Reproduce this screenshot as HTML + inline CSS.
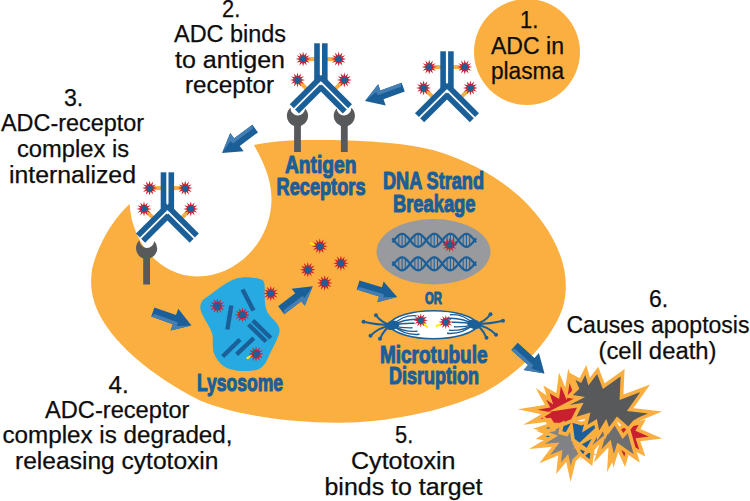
<!DOCTYPE html>
<html lang="en"><head><meta charset="utf-8"><title>ADC mechanism of action</title>
<style>
html,body{margin:0;padding:0;background:#fff;}
svg{display:block;}
.t{font-family:"Liberation Sans",sans-serif;fill:#0d0d0d;stroke:#0d0d0d;stroke-width:0.25px;}
.b{font-family:"Liberation Sans",sans-serif;font-weight:bold;fill:#1B5F98;stroke:#1B5F98;stroke-width:1.1px;stroke-linejoin:round;}
</style></head><body>
<svg width="750" height="501" viewBox="0 0 750 501">
<rect width="750" height="501" fill="#fff"/>
<circle cx="527" cy="52" r="53" fill="#FBAF40"/>
<path d="M129.6,204 C113.5,219 98.5,243 92.3,268 C89,287 92.5,303 102.5,320 C117,345 150,375 200,400.5 C232,414 285,423 340,422.7 C385,422.5 440,412.5 483,393 C519,374 552,340 563,307 C571,278 561.5,249 543,223 C524,196 490,167 433,150 C400,141.5 350,139.5 304,140 C285,140.5 268,142 254,145 C262,160 271,176 271.5,198 C272,240 238,276.5 197,276.5 C163,276.5 132,246 129.6,204 Z" fill="#FBAF40"/>
<g transform="translate(297.5,115.8) rotate(0)"><rect x="-3.4" y="6" width="6.8" height="30.2" fill="#58595B"/><path d="M-7,-8 A10.6,10.6 0 1 0 7.6,-7.4 A7.3,7.3 0 0 1 -7,-8 Z" fill="#58595B"/></g>
<g transform="translate(344.3,115.8) rotate(0)"><rect x="-3.4" y="6" width="6.8" height="30.2" fill="#58595B"/><path d="M-7.6,-7.4 A10.6,10.6 0 1 0 7,-8 A7.3,7.3 0 0 1 -7.6,-7.4 Z" fill="#58595B"/></g>
<g transform="translate(146.6,248.3) rotate(0)"><rect x="-3.4" y="6" width="6.8" height="30.2" fill="#58595B"/><path d="M-7,-8 A10.6,10.6 0 1 0 7.6,-7.4 A7.3,7.3 0 0 1 -7,-8 Z" fill="#58595B"/></g>
<g><line x1="317.9" y1="59.1" x2="303.4" y2="59.1" stroke="#FBAF40" stroke-width="4"/><line x1="297.5" y1="79.9" x2="309.5" y2="91.9" stroke="#FBAF40" stroke-width="4"/><line x1="323.9" y1="59.1" x2="338.4" y2="59.1" stroke="#FBAF40" stroke-width="4"/><line x1="344.3" y1="79.9" x2="332.3" y2="91.9" stroke="#FBAF40" stroke-width="4"/><rect x="314.2" y="43.3" width="5.6" height="37.5" fill="#1B5F98"/><rect x="322" y="43.3" width="5.6" height="37.5" fill="#1B5F98"/><g transform="translate(320.9,82.3) scale(-1,1) rotate(45)"><rect x="-4.6" y="-6.5" width="42.1" height="5.6" fill="#1B5F98"/><rect x="2.2" y="0.9" width="35.3" height="5.6" fill="#1B5F98"/></g><g transform="translate(320.9,82.3) scale(1,1) rotate(45)"><rect x="-4.6" y="-6.5" width="42.1" height="5.6" fill="#1B5F98"/><rect x="2.2" y="0.9" width="35.3" height="5.6" fill="#1B5F98"/></g><polygon points="310.6,59.1 306.7,60.1 309.6,62.8 305.8,61.8 306.8,65.6 304.1,62.7 303.1,66.6 302.1,62.7 299.3,65.6 300.4,61.8 296.6,62.8 299.5,60.1 295.6,59.1 299.5,58.1 296.6,55.3 300.4,56.4 299.3,52.6 302.1,55.5 303.1,51.6 304.1,55.5 306.8,52.6 305.8,56.4 309.6,55.3 306.7,58.1" fill="#C8202F"/><circle cx="303.1" cy="59.1" r="3.1" fill="#1B5F98"/><polygon points="305,79.9 301.1,80.9 304,83.7 300.2,82.6 301.2,86.4 298.5,83.5 297.5,87.4 296.5,83.5 293.8,86.4 294.8,82.6 291,83.7 293.9,80.9 290,79.9 293.9,78.9 291,76.2 294.8,77.2 293.8,73.4 296.5,76.3 297.5,72.4 298.5,76.3 301.2,73.4 300.2,77.2 304,76.2 301.1,78.9" fill="#C8202F"/><circle cx="297.5" cy="79.9" r="3.1" fill="#1B5F98"/><polygon points="346.2,59.1 342.3,60.1 345.2,62.8 341.4,61.8 342.4,65.6 339.7,62.7 338.7,66.6 337.7,62.7 334.9,65.6 336,61.8 332.2,62.8 335.1,60.1 331.2,59.1 335.1,58.1 332.2,55.3 336,56.4 334.9,52.6 337.7,55.5 338.7,51.6 339.7,55.5 342.4,52.6 341.4,56.4 345.2,55.3 342.3,58.1" fill="#C8202F"/><circle cx="338.7" cy="59.1" r="3.1" fill="#1B5F98"/><polygon points="351.8,79.9 347.9,80.9 350.8,83.7 347,82.6 348,86.4 345.3,83.5 344.3,87.4 343.3,83.5 340.5,86.4 341.6,82.6 337.8,83.7 340.7,80.9 336.8,79.9 340.7,78.9 337.8,76.2 341.6,77.2 340.5,73.4 343.3,76.3 344.3,72.4 345.3,76.3 348,73.4 347,77.2 350.8,76.2 347.9,78.9" fill="#C8202F"/><circle cx="344.3" cy="79.9" r="3.1" fill="#1B5F98"/></g>
<g><line x1="444" y1="67.1" x2="429.5" y2="67.1" stroke="#FBAF40" stroke-width="4"/><line x1="423.6" y1="87.9" x2="435.6" y2="99.9" stroke="#FBAF40" stroke-width="4"/><line x1="450" y1="67.1" x2="464.5" y2="67.1" stroke="#FBAF40" stroke-width="4"/><line x1="470.4" y1="87.9" x2="458.4" y2="99.9" stroke="#FBAF40" stroke-width="4"/><rect x="440.3" y="51.3" width="5.6" height="37.5" fill="#1B5F98"/><rect x="448.1" y="51.3" width="5.6" height="37.5" fill="#1B5F98"/><g transform="translate(447,90.3) scale(-1,1) rotate(45)"><rect x="-4.6" y="-6.5" width="43.4" height="5.6" fill="#1B5F98"/><rect x="2.2" y="0.9" width="36.6" height="5.6" fill="#1B5F98"/></g><g transform="translate(447,90.3) scale(1,1) rotate(45)"><rect x="-4.6" y="-6.5" width="43.4" height="5.6" fill="#1B5F98"/><rect x="2.2" y="0.9" width="36.6" height="5.6" fill="#1B5F98"/></g><polygon points="436.7,67.1 432.8,68.1 435.7,70.8 431.9,69.8 432.9,73.6 430.2,70.7 429.2,74.6 428.2,70.7 425.4,73.6 426.5,69.8 422.7,70.8 425.6,68.1 421.7,67.1 425.6,66.1 422.7,63.3 426.5,64.4 425.4,60.6 428.2,63.5 429.2,59.6 430.2,63.5 432.9,60.6 431.9,64.4 435.7,63.3 432.8,66.1" fill="#C8202F"/><circle cx="429.2" cy="67.1" r="3.1" fill="#1B5F98"/><polygon points="431.1,87.9 427.2,88.9 430.1,91.7 426.3,90.6 427.4,94.4 424.6,91.5 423.6,95.4 422.6,91.5 419.9,94.4 420.9,90.6 417.1,91.7 420,88.9 416.1,87.9 420,86.9 417.1,84.2 420.9,85.2 419.9,81.4 422.6,84.3 423.6,80.4 424.6,84.3 427.4,81.4 426.3,85.2 430.1,84.2 427.2,86.9" fill="#C8202F"/><circle cx="423.6" cy="87.9" r="3.1" fill="#1B5F98"/><polygon points="472.3,67.1 468.4,68.1 471.3,70.8 467.5,69.8 468.6,73.6 465.8,70.7 464.8,74.6 463.8,70.7 461.1,73.6 462.1,69.8 458.3,70.8 461.2,68.1 457.3,67.1 461.2,66.1 458.3,63.3 462.1,64.4 461.1,60.6 463.8,63.5 464.8,59.6 465.8,63.5 468.6,60.6 467.5,64.4 471.3,63.3 468.4,66.1" fill="#C8202F"/><circle cx="464.8" cy="67.1" r="3.1" fill="#1B5F98"/><polygon points="477.9,87.9 474,88.9 476.9,91.7 473.1,90.6 474.1,94.4 471.4,91.5 470.4,95.4 469.4,91.5 466.6,94.4 467.7,90.6 463.9,91.7 466.8,88.9 462.9,87.9 466.8,86.9 463.9,84.2 467.7,85.2 466.6,81.4 469.4,84.3 470.4,80.4 471.4,84.3 474.1,81.4 473.1,85.2 476.9,84.2 474,86.9" fill="#C8202F"/><circle cx="470.4" cy="87.9" r="3.1" fill="#1B5F98"/></g>
<g><line x1="164.4" y1="188.1" x2="149.9" y2="188.1" stroke="#FBAF40" stroke-width="4"/><line x1="144" y1="208.9" x2="156" y2="220.9" stroke="#FBAF40" stroke-width="4"/><line x1="170.4" y1="188.1" x2="184.9" y2="188.1" stroke="#FBAF40" stroke-width="4"/><line x1="190.8" y1="208.9" x2="178.8" y2="220.9" stroke="#FBAF40" stroke-width="4"/><rect x="160.7" y="172.3" width="5.6" height="37.5" fill="#1B5F98"/><rect x="168.5" y="172.3" width="5.6" height="37.5" fill="#1B5F98"/><g transform="translate(167.4,211.3) scale(-1,1) rotate(45)"><rect x="-4.6" y="-6.5" width="42.6" height="5.6" fill="#1B5F98"/><rect x="2.2" y="0.9" width="35.8" height="5.6" fill="#1B5F98"/></g><g transform="translate(167.4,211.3) scale(1,1) rotate(45)"><rect x="-4.6" y="-6.5" width="42.6" height="5.6" fill="#1B5F98"/><rect x="2.2" y="0.9" width="35.8" height="5.6" fill="#1B5F98"/></g><polygon points="157.1,188.1 153.2,189.1 156.1,191.9 152.3,190.8 153.3,194.6 150.6,191.7 149.6,195.6 148.6,191.7 145.8,194.6 146.9,190.8 143.1,191.9 146,189.1 142.1,188.1 146,187.1 143.1,184.4 146.9,185.4 145.8,181.6 148.6,184.5 149.6,180.6 150.6,184.5 153.3,181.6 152.3,185.4 156.1,184.4 153.2,187.1" fill="#C8202F"/><circle cx="149.6" cy="188.1" r="3.1" fill="#1B5F98"/><polygon points="151.5,208.9 147.6,209.9 150.5,212.7 146.7,211.6 147.8,215.4 145,212.5 144,216.4 143,212.5 140.2,215.4 141.3,211.6 137.5,212.7 140.4,209.9 136.5,208.9 140.4,207.9 137.5,205.2 141.3,206.2 140.2,202.4 143,205.3 144,201.4 145,205.3 147.8,202.4 146.7,206.2 150.5,205.2 147.6,207.9" fill="#C8202F"/><circle cx="144" cy="208.9" r="3.1" fill="#1B5F98"/><polygon points="192.7,188.1 188.8,189.1 191.7,191.9 187.9,190.8 189,194.6 186.2,191.7 185.2,195.6 184.2,191.7 181.5,194.6 182.5,190.8 178.7,191.9 181.6,189.1 177.7,188.1 181.6,187.1 178.7,184.4 182.5,185.4 181.5,181.6 184.2,184.5 185.2,180.6 186.2,184.5 189,181.6 187.9,185.4 191.7,184.4 188.8,187.1" fill="#C8202F"/><circle cx="185.2" cy="188.1" r="3.1" fill="#1B5F98"/><polygon points="198.3,208.9 194.4,209.9 197.3,212.7 193.5,211.6 194.6,215.4 191.8,212.5 190.8,216.4 189.8,212.5 187.1,215.4 188.1,211.6 184.3,212.7 187.2,209.9 183.3,208.9 187.2,207.9 184.3,205.2 188.1,206.2 187.1,202.4 189.8,205.3 190.8,201.4 191.8,205.3 194.6,202.4 193.5,206.2 197.3,205.2 194.4,207.9" fill="#C8202F"/><circle cx="190.8" cy="208.9" r="3.1" fill="#1B5F98"/></g>
<g transform="translate(403.2,87.2) rotate(160.1)"><polygon points="0,-4.6 22.6,-4.6 22.6,-11.2 40.6,0 22.6,11.2 22.6,4.6 0,4.6" fill="#1B5F98"/><polygon points="0,4.6 22.6,4.6 22.6,11.2 40.6,0 27.1,4.7 26.6,1.2 2,1.2" fill="#447EB2"/></g>
<g transform="translate(255.2,128.6) rotate(143.5)"><polygon points="0,-4.7 22.7,-4.7 22.7,-11.3 41.2,0 22.7,11.3 22.7,4.7 0,4.7" fill="#1B5F98"/><polygon points="0,4.7 22.7,4.7 22.7,11.3 41.2,0 27.2,4.8 26.7,1.3 2,1.3" fill="#447EB2"/></g>
<g transform="translate(152.8,312) rotate(19.4)"><polygon points="0,-4.8 22.9,-4.8 22.9,-11.6 41,0 22.9,11.6 22.9,4.8 0,4.8" fill="#1B5F98"/><polygon points="0,4.8 22.9,4.8 22.9,11.6 41,0 27.4,5.1 26.9,1.4 2,1.4" fill="#447EB2"/></g>
<g transform="translate(281.2,310.2) rotate(-37.3)"><polygon points="0,-5 21.4,-5 21.4,-10.8 39.6,0 21.4,10.8 21.4,5 0,5" fill="#1B5F98"/><polygon points="0,5 21.4,5 21.4,10.8 39.6,0 25.9,4.3 25.4,1.6 2,1.6" fill="#447EB2"/></g>
<g transform="translate(358.1,285) rotate(17)"><polygon points="0,-4.8 23.4,-4.8 23.4,-10.9 40.8,0 23.4,10.9 23.4,4.8 0,4.8" fill="#1B5F98"/><polygon points="0,4.8 23.4,4.8 23.4,10.9 40.8,0 27.9,4.4 27.4,1.4 2,1.4" fill="#447EB2"/></g>
<g transform="translate(514.5,346.4) rotate(42.1)"><polygon points="0,-4.8 22.6,-4.8 22.6,-11.4 40.4,0 22.6,11.4 22.6,4.8 0,4.8" fill="#1B5F98"/><polygon points="0,4.8 22.6,4.8 22.6,11.4 40.4,0 27.1,4.9 26.6,1.4 2,1.4" fill="#447EB2"/></g>
<path d="M200.3,306 C200.8,303 202,301 203.8,299.3 L222.7,285.6 C227,282.5 231,280.5 235.6,278.8 C242,276.6 254,276.6 262.5,280 C266,283 264,290 265,302 C265.5,310 268,314 272,318 C278,324 281,328 279,334 C277,341 273,347 269.7,354 C267,361 264,367 258,369.5 C250,372 236,371.5 228,368.5 C220,365 216,359 213.5,352 C212,345 213.5,338 212,333 C210,327 206,322 203,316 C201,312 200,309 200.3,306 Z" fill="#27A9E1"/>
<line x1="242.5" y1="289.5" x2="253.5" y2="310.5" stroke="#1B5F98" stroke-width="4.4"/>
<line x1="231.3" y1="305.5" x2="227.4" y2="329.5" stroke="#1B5F98" stroke-width="4.4"/>
<line x1="252.8" y1="320.5" x2="270.8" y2="338" stroke="#1B5F98" stroke-width="4.4"/>
<line x1="248.6" y1="324.5" x2="266" y2="341.5" stroke="#1B5F98" stroke-width="4.4"/>
<line x1="240" y1="339.5" x2="222.7" y2="356.5" stroke="#1B5F98" stroke-width="4.4"/>
<line x1="253.8" y1="338" x2="236.6" y2="354.3" stroke="#1B5F98" stroke-width="4.4"/>
<polygon points="225.1,306 221.1,307 224.1,309.9 220.1,308.7 221.2,312.7 218.4,309.7 217.4,313.7 216.4,309.7 213.6,312.7 214.7,308.7 210.7,309.9 213.7,307 209.7,306 213.7,305 210.7,302.1 214.7,303.3 213.6,299.3 216.4,302.3 217.4,298.3 218.4,302.3 221.2,299.3 220.1,303.3 224.1,302.1 221.1,305" fill="#C8202F"/><circle cx="217.4" cy="306" r="3.2" fill="#1B5F98"/>
<polygon points="250.1,314.9 246.1,315.9 249.1,318.8 245.1,317.6 246.2,321.6 243.4,318.6 242.4,322.6 241.4,318.6 238.6,321.6 239.7,317.6 235.7,318.8 238.7,315.9 234.7,314.9 238.7,313.9 235.7,311 239.7,312.2 238.6,308.2 241.4,311.2 242.4,307.2 243.4,311.2 246.2,308.2 245.1,312.2 249.1,311 246.1,313.9" fill="#C8202F"/><circle cx="242.4" cy="314.9" r="3.2" fill="#1B5F98"/>
<line x1="247.5" y1="358" x2="256" y2="354" stroke="#FFF200" stroke-width="2.2" stroke-linecap="round"/><polygon points="263.7,354 259.7,355 262.7,357.9 258.7,356.7 259.9,360.7 257,357.7 256,361.7 255,357.7 252.2,360.7 253.3,356.7 249.3,357.9 252.3,355 248.3,354 252.3,353 249.3,350.1 253.3,351.3 252.2,347.3 255,350.3 256,346.3 257,350.3 259.9,347.3 258.7,351.3 262.7,350.1 259.7,353" fill="#C8202F"/><circle cx="256" cy="354" r="3.2" fill="#1B5F98"/>
<polygon points="278.5,293.5 274.5,294.5 277.5,297.4 273.5,296.2 274.7,300.2 271.8,297.2 270.8,301.2 269.8,297.2 266.9,300.2 268.1,296.2 264.1,297.4 267.1,294.5 263.1,293.5 267.1,292.5 264.1,289.6 268.1,290.8 266.9,286.8 269.8,289.8 270.8,285.8 271.8,289.8 274.7,286.8 273.5,290.8 277.5,289.6 274.5,292.5" fill="#C8202F"/><circle cx="270.8" cy="293.5" r="3.2" fill="#1B5F98"/>
<line x1="310.8" y1="243.2" x2="319.8" y2="246.2" stroke="#FFF200" stroke-width="2.2" stroke-linecap="round"/><polygon points="327.7,246.2 323.6,247.2 326.6,250.1 322.6,249 323.8,253 320.8,250 319.8,254.1 318.8,250 315.9,253 317,249 313,250.1 316,247.2 311.9,246.2 316,245.2 313,242.2 317,243.4 315.9,239.4 318.8,242.4 319.8,238.3 320.8,242.4 323.8,239.4 322.6,243.4 326.6,242.2 323.6,245.2" fill="#C8202F"/><circle cx="319.8" cy="246.2" r="3.2" fill="#1B5F98"/>
<polygon points="348.8,263.2 344.7,264.2 347.7,267.1 343.7,266 344.8,270 341.9,267 340.9,271.1 339.9,267 336.9,270 338.1,266 334.1,267.1 337.1,264.2 333,263.2 337.1,262.2 334.1,259.2 338.1,260.4 336.9,256.4 339.9,259.4 340.9,255.3 341.9,259.4 344.8,256.4 343.7,260.4 347.7,259.2 344.7,262.2" fill="#C8202F"/><circle cx="340.9" cy="263.2" r="3.2" fill="#1B5F98"/>
<polygon points="315.7,269.7 311.6,270.7 314.6,273.6 310.6,272.5 311.8,276.5 308.8,273.5 307.8,277.6 306.8,273.5 303.9,276.5 305,272.5 301,273.6 304,270.7 299.9,269.7 304,268.7 301,265.8 305,266.9 303.9,262.9 306.8,265.9 307.8,261.8 308.8,265.9 311.8,262.9 310.6,266.9 314.6,265.8 311.6,268.7" fill="#C8202F"/><circle cx="307.8" cy="269.7" r="3.2" fill="#1B5F98"/>
<polygon points="332.6,283 328.5,284 331.5,286.9 327.5,285.8 328.6,289.8 325.7,286.8 324.7,290.9 323.7,286.8 320.8,289.8 321.9,285.8 317.9,286.9 320.9,284 316.8,283 320.9,282 317.9,279.1 321.9,280.2 320.8,276.2 323.7,279.2 324.7,275.1 325.7,279.2 328.6,276.2 327.5,280.2 331.5,279.1 328.5,282" fill="#C8202F"/><circle cx="324.7" cy="283" r="3.2" fill="#1B5F98"/>
<ellipse cx="433.5" cy="251.7" rx="57" ry="32.8" fill="#999A9E"/>
<line x1="398.8" y1="235" x2="398.8" y2="245.6" stroke="#1B5F98" stroke-width="1"/><line x1="402.1" y1="233.8" x2="402.1" y2="246.8" stroke="#1B5F98" stroke-width="1"/><line x1="405.3" y1="235" x2="405.3" y2="245.6" stroke="#1B5F98" stroke-width="1"/><line x1="414.9" y1="235" x2="414.9" y2="245.6" stroke="#1B5F98" stroke-width="1"/><line x1="418.1" y1="233.8" x2="418.1" y2="246.8" stroke="#1B5F98" stroke-width="1"/><line x1="421.4" y1="235" x2="421.4" y2="245.6" stroke="#1B5F98" stroke-width="1"/><line x1="431" y1="235" x2="431" y2="245.6" stroke="#1B5F98" stroke-width="1"/><line x1="434.2" y1="233.8" x2="434.2" y2="246.8" stroke="#1B5F98" stroke-width="1"/><line x1="437.5" y1="235" x2="437.5" y2="245.6" stroke="#1B5F98" stroke-width="1"/><line x1="447.1" y1="235" x2="447.1" y2="245.6" stroke="#1B5F98" stroke-width="1"/><line x1="450.4" y1="233.8" x2="450.4" y2="246.8" stroke="#1B5F98" stroke-width="1"/><line x1="453.6" y1="235" x2="453.6" y2="245.6" stroke="#1B5F98" stroke-width="1"/><line x1="463.2" y1="235" x2="463.2" y2="245.6" stroke="#1B5F98" stroke-width="1"/><line x1="466.4" y1="233.8" x2="466.4" y2="246.8" stroke="#1B5F98" stroke-width="1"/><line x1="469.7" y1="235" x2="469.7" y2="245.6" stroke="#1B5F98" stroke-width="1"/><polyline points="392.4,238.3 393.2,239.3 394.1,240.4 394.9,241.4 395.7,242.5 396.6,243.4 397.4,244.3 398.3,245.1 399.1,245.7 399.9,246.2 400.8,246.6 401.6,246.8 402.4,246.8 403.3,246.6 404.1,246.3 404.9,245.8 405.8,245.1 406.6,244.4 407.5,243.5 408.3,242.5 409.1,241.5 410,240.5 410.8,239.4 411.6,238.4 412.5,237.4 413.3,236.5 414.2,235.7 415,235 415.8,234.5 416.7,234.1 417.5,233.9 418.3,233.8 419.2,233.9 420,234.2 420.9,234.7 421.7,235.3 422.5,236 423.4,236.9 424.2,237.8 425,238.8 425.9,239.9 426.7,241 427.6,242 428.4,243 429.2,243.9 430.1,244.7 430.9,245.5 431.7,246 432.6,246.5 433.4,246.7 434.2,246.8 435.1,246.7 435.9,246.5 436.8,246 437.6,245.5 438.4,244.7 439.3,243.9 440.1,243 440.9,242 441.8,241 442.6,239.9 443.5,238.8 444.3,237.8 445.1,236.9 446,236 446.8,235.3 447.6,234.7 448.5,234.2 449.3,233.9 450.2,233.8 451,233.9 451.8,234.1 452.7,234.5 453.5,235 454.3,235.7 455.2,236.5 456,237.4 456.9,238.4 457.7,239.4 458.5,240.5 459.4,241.5 460.2,242.5 461,243.5 461.9,244.4 462.7,245.1 463.6,245.8 464.4,246.3 465.2,246.6 466.1,246.8 466.9,246.8 467.7,246.6 468.6,246.2 469.4,245.7 470.2,245.1 471.1,244.3 471.9,243.4 472.8,242.5 473.6,241.4 474.4,240.4 475.3,239.3 476.1,238.3" fill="none" stroke="#1B5F98" stroke-width="2.2"/><polyline points="392.4,242.3 393.2,241.3 394.1,240.2 394.9,239.2 395.7,238.1 396.6,237.2 397.4,236.3 398.3,235.5 399.1,234.9 399.9,234.4 400.8,234 401.6,233.8 402.4,233.8 403.3,234 404.1,234.3 404.9,234.8 405.8,235.5 406.6,236.2 407.5,237.1 408.3,238.1 409.1,239.1 410,240.1 410.8,241.2 411.6,242.2 412.5,243.2 413.3,244.1 414.2,244.9 415,245.6 415.8,246.1 416.7,246.5 417.5,246.7 418.3,246.8 419.2,246.7 420,246.4 420.9,245.9 421.7,245.3 422.5,244.6 423.4,243.7 424.2,242.8 425,241.8 425.9,240.7 426.7,239.6 427.6,238.6 428.4,237.6 429.2,236.7 430.1,235.9 430.9,235.1 431.7,234.6 432.6,234.1 433.4,233.9 434.2,233.8 435.1,233.9 435.9,234.1 436.8,234.6 437.6,235.1 438.4,235.9 439.3,236.7 440.1,237.6 440.9,238.6 441.8,239.6 442.6,240.7 443.5,241.8 444.3,242.8 445.1,243.7 446,244.6 446.8,245.3 447.6,245.9 448.5,246.4 449.3,246.7 450.2,246.8 451,246.7 451.8,246.5 452.7,246.1 453.5,245.6 454.3,244.9 455.2,244.1 456,243.2 456.9,242.2 457.7,241.2 458.5,240.1 459.4,239.1 460.2,238.1 461,237.1 461.9,236.2 462.7,235.5 463.6,234.8 464.4,234.3 465.2,234 466.1,233.8 466.9,233.8 467.7,234 468.6,234.4 469.4,234.9 470.2,235.5 471.1,236.3 471.9,237.2 472.8,238.1 473.6,239.2 474.4,240.2 475.3,241.3 476.1,242.3" fill="none" stroke="#1B5F98" stroke-width="2.2"/>
<line x1="398.8" y1="258.5" x2="398.8" y2="269.1" stroke="#1B5F98" stroke-width="1"/><line x1="402.1" y1="257.3" x2="402.1" y2="270.3" stroke="#1B5F98" stroke-width="1"/><line x1="405.3" y1="258.5" x2="405.3" y2="269.1" stroke="#1B5F98" stroke-width="1"/><line x1="414.9" y1="258.5" x2="414.9" y2="269.1" stroke="#1B5F98" stroke-width="1"/><line x1="418.1" y1="257.3" x2="418.1" y2="270.3" stroke="#1B5F98" stroke-width="1"/><line x1="421.4" y1="258.5" x2="421.4" y2="269.1" stroke="#1B5F98" stroke-width="1"/><line x1="431" y1="258.5" x2="431" y2="269.1" stroke="#1B5F98" stroke-width="1"/><line x1="434.2" y1="257.3" x2="434.2" y2="270.3" stroke="#1B5F98" stroke-width="1"/><line x1="437.5" y1="258.5" x2="437.5" y2="269.1" stroke="#1B5F98" stroke-width="1"/><line x1="447.1" y1="258.5" x2="447.1" y2="269.1" stroke="#1B5F98" stroke-width="1"/><line x1="450.4" y1="257.3" x2="450.4" y2="270.3" stroke="#1B5F98" stroke-width="1"/><line x1="453.6" y1="258.5" x2="453.6" y2="269.1" stroke="#1B5F98" stroke-width="1"/><line x1="463.2" y1="258.5" x2="463.2" y2="269.1" stroke="#1B5F98" stroke-width="1"/><line x1="466.4" y1="257.3" x2="466.4" y2="270.3" stroke="#1B5F98" stroke-width="1"/><line x1="469.7" y1="258.5" x2="469.7" y2="269.1" stroke="#1B5F98" stroke-width="1"/><polyline points="392.4,261.8 393.2,262.8 394.1,263.9 394.9,264.9 395.7,266 396.6,266.9 397.4,267.8 398.3,268.6 399.1,269.2 399.9,269.7 400.8,270.1 401.6,270.3 402.4,270.3 403.3,270.1 404.1,269.8 404.9,269.3 405.8,268.6 406.6,267.9 407.5,267 408.3,266 409.1,265 410,264 410.8,262.9 411.6,261.9 412.5,260.9 413.3,260 414.2,259.2 415,258.5 415.8,258 416.7,257.6 417.5,257.4 418.3,257.3 419.2,257.4 420,257.7 420.9,258.2 421.7,258.8 422.5,259.5 423.4,260.4 424.2,261.3 425,262.3 425.9,263.4 426.7,264.5 427.6,265.5 428.4,266.5 429.2,267.4 430.1,268.2 430.9,269 431.7,269.5 432.6,270 433.4,270.2 434.2,270.3 435.1,270.2 435.9,270 436.8,269.5 437.6,269 438.4,268.2 439.3,267.4 440.1,266.5 440.9,265.5 441.8,264.5 442.6,263.4 443.5,262.3 444.3,261.3 445.1,260.4 446,259.5 446.8,258.8 447.6,258.2 448.5,257.7 449.3,257.4 450.2,257.3 451,257.4 451.8,257.6 452.7,258 453.5,258.5 454.3,259.2 455.2,260 456,260.9 456.9,261.9 457.7,262.9 458.5,264 459.4,265 460.2,266 461,267 461.9,267.9 462.7,268.6 463.6,269.3 464.4,269.8 465.2,270.1 466.1,270.3 466.9,270.3 467.7,270.1 468.6,269.7 469.4,269.2 470.2,268.6 471.1,267.8 471.9,266.9 472.8,266 473.6,264.9 474.4,263.9 475.3,262.8 476.1,261.8" fill="none" stroke="#1B5F98" stroke-width="2.2"/><polyline points="392.4,265.8 393.2,264.8 394.1,263.7 394.9,262.7 395.7,261.6 396.6,260.7 397.4,259.8 398.3,259 399.1,258.4 399.9,257.9 400.8,257.5 401.6,257.3 402.4,257.3 403.3,257.5 404.1,257.8 404.9,258.3 405.8,259 406.6,259.7 407.5,260.6 408.3,261.6 409.1,262.6 410,263.6 410.8,264.7 411.6,265.7 412.5,266.7 413.3,267.6 414.2,268.4 415,269.1 415.8,269.6 416.7,270 417.5,270.2 418.3,270.3 419.2,270.2 420,269.9 420.9,269.4 421.7,268.8 422.5,268.1 423.4,267.2 424.2,266.3 425,265.3 425.9,264.2 426.7,263.1 427.6,262.1 428.4,261.1 429.2,260.2 430.1,259.4 430.9,258.6 431.7,258.1 432.6,257.6 433.4,257.4 434.2,257.3 435.1,257.4 435.9,257.6 436.8,258.1 437.6,258.6 438.4,259.4 439.3,260.2 440.1,261.1 440.9,262.1 441.8,263.1 442.6,264.2 443.5,265.3 444.3,266.3 445.1,267.2 446,268.1 446.8,268.8 447.6,269.4 448.5,269.9 449.3,270.2 450.2,270.3 451,270.2 451.8,270 452.7,269.6 453.5,269.1 454.3,268.4 455.2,267.6 456,266.7 456.9,265.7 457.7,264.7 458.5,263.6 459.4,262.6 460.2,261.6 461,260.6 461.9,259.7 462.7,259 463.6,258.3 464.4,257.8 465.2,257.5 466.1,257.3 466.9,257.3 467.7,257.5 468.6,257.9 469.4,258.4 470.2,259 471.1,259.8 471.9,260.7 472.8,261.6 473.6,262.7 474.4,263.7 475.3,264.8 476.1,265.8" fill="none" stroke="#1B5F98" stroke-width="2.2"/>
<polygon points="457.1,245 453.2,246 456.1,248.8 452.3,247.7 453.4,251.5 450.6,248.6 449.6,252.5 448.6,248.6 445.9,251.5 446.9,247.7 443.1,248.8 446,246 442.1,245 446,244 443.1,241.2 446.9,242.3 445.9,238.5 448.6,241.4 449.6,237.5 450.6,241.4 453.4,238.5 452.3,242.3 456.1,241.2 453.2,244" fill="#C8202F"/><circle cx="449.6" cy="245" r="3.1" fill="#1B5F98"/>
<path d="M388,324.7 C400,306 467,306 479,324.7 C467,343.5 400,343.5 388,324.7 Z" fill="#fff" stroke="#1B5F98" stroke-width="1.6"/>
<path d="M392.5,325.3 Q375.1,324.8 363.5,321.8" fill="none" stroke="#1B5F98" stroke-width="2"/><circle cx="363.5" cy="321.8" r="2" fill="#1B5F98"/><path d="M392.5,325.3 Q382.6,323.8 376,315.3" fill="none" stroke="#1B5F98" stroke-width="2"/><circle cx="376" cy="315.3" r="2" fill="#1B5F98"/><path d="M392.5,325.3 Q379.3,326.9 370.5,335.8" fill="none" stroke="#1B5F98" stroke-width="2"/><circle cx="370.5" cy="335.8" r="2" fill="#1B5F98"/><path d="M392.5,325.3 Q385,327.3 380,338.8" fill="none" stroke="#1B5F98" stroke-width="2"/><circle cx="380" cy="338.8" r="2" fill="#1B5F98"/><path d="M392.5,325.3 Q403.3,314.4 416.5,315.8" fill="none" stroke="#1B5F98" stroke-width="1.4"/><path d="M392.5,325.3 Q404.6,318.4 419.5,319.3" fill="none" stroke="#1B5F98" stroke-width="1.4"/><path d="M392.5,325.3 Q402.4,323 414.5,323.3" fill="none" stroke="#1B5F98" stroke-width="1.4"/><path d="M392.5,325.3 Q401.5,328.2 412.5,327.8" fill="none" stroke="#1B5F98" stroke-width="1.4"/><path d="M392.5,325.3 Q403.8,332.2 417.5,331.3" fill="none" stroke="#1B5F98" stroke-width="1.4"/><path d="M392.5,325.3 Q404.6,335.7 419.5,334.3" fill="none" stroke="#1B5F98" stroke-width="1.4"/><ellipse cx="392.5" cy="325.3" rx="7" ry="4.6" fill="#1B5F98" transform="rotate(-15 392.5 325.3)"/>
<path d="M474,324.3 Q491.4,323.8 503,320.8" fill="none" stroke="#1B5F98" stroke-width="2"/><circle cx="503" cy="320.8" r="2" fill="#1B5F98"/><path d="M474,324.3 Q483.9,322.8 490.5,314.3" fill="none" stroke="#1B5F98" stroke-width="2"/><circle cx="490.5" cy="314.3" r="2" fill="#1B5F98"/><path d="M474,324.3 Q487.2,325.9 496,334.8" fill="none" stroke="#1B5F98" stroke-width="2"/><circle cx="496" cy="334.8" r="2" fill="#1B5F98"/><path d="M474,324.3 Q481.5,326.3 486.5,337.8" fill="none" stroke="#1B5F98" stroke-width="2"/><circle cx="486.5" cy="337.8" r="2" fill="#1B5F98"/><path d="M474,324.3 Q463.2,313.4 450,314.8" fill="none" stroke="#1B5F98" stroke-width="1.4"/><path d="M474,324.3 Q461.9,317.4 447,318.3" fill="none" stroke="#1B5F98" stroke-width="1.4"/><path d="M474,324.3 Q464.1,322 452,322.3" fill="none" stroke="#1B5F98" stroke-width="1.4"/><path d="M474,324.3 Q465,327.2 454,326.8" fill="none" stroke="#1B5F98" stroke-width="1.4"/><path d="M474,324.3 Q462.8,331.2 449,330.3" fill="none" stroke="#1B5F98" stroke-width="1.4"/><path d="M474,324.3 Q461.9,334.7 447,333.3" fill="none" stroke="#1B5F98" stroke-width="1.4"/><ellipse cx="474" cy="324.3" rx="7" ry="4.6" fill="#1B5F98" transform="rotate(15 474 324.3)"/>
<line x1="427" y1="327" x2="420.8" y2="320.3" stroke="#FFF200" stroke-width="2.2" stroke-linecap="round"/><polygon points="427.9,320.3 424.2,321.2 426.9,323.9 423.3,322.8 424.4,326.4 421.7,323.7 420.8,327.4 419.9,323.7 417.2,326.4 418.3,322.8 414.7,323.9 417.4,321.2 413.7,320.3 417.4,319.4 414.7,316.8 418.3,317.8 417.2,314.2 419.9,316.9 420.8,313.2 421.7,316.9 424.4,314.2 423.3,317.8 426.9,316.8 424.2,319.4" fill="#C8202F"/><circle cx="420.8" cy="320.3" r="2.9" fill="#1B5F98"/>
<line x1="436.5" y1="326" x2="445.8" y2="322" stroke="#FFF200" stroke-width="2.2" stroke-linecap="round"/><polygon points="452.9,322 449.2,322.9 451.9,325.6 448.3,324.5 449.4,328.1 446.7,325.4 445.8,329.1 444.9,325.4 442.2,328.1 443.3,324.5 439.7,325.6 442.4,322.9 438.7,322 442.4,321.1 439.7,318.4 443.3,319.5 442.2,315.9 444.9,318.6 445.8,314.9 446.7,318.6 449.4,315.9 448.3,319.5 451.9,318.4 449.2,321.1" fill="#C8202F"/><circle cx="445.8" cy="322" r="2.9" fill="#1B5F98"/>
<polygon points="540.9,393.8 549.9,400 546.5,389.4 557.7,396.1 559.9,379.3 566.1,393.8 568.9,375.9 574.5,391.6 582.3,382.6 580.1,398.3 590.2,400.6 584.6,417.4 577.9,418.5 567.8,432.5 563.3,424.1 558.3,432.5 549.9,419.6 531.9,421.8 546.5,413.4 527.5,409.5 547.6,406.2" fill="#C8202F" stroke="#FBAF40" stroke-width="3.6" stroke-linejoin="miter" stroke-miterlimit="12"/>
<polygon points="622.5,426.6 642.3,422.2 637.9,429.9 655.5,437.6 637.9,439.8 642.3,453 629.1,446.4 624.7,461.8 618.1,447.5 609.3,464 610.4,445.3 603.8,435.4" fill="#C8202F" stroke="#FBAF40" stroke-width="3.6" stroke-linejoin="miter" stroke-miterlimit="12"/>
<polygon points="539.6,428.4 551,431.2 540.6,437.9 552.9,439.8 558.6,451.2 571.9,445.5 576.7,451.2 590.9,462.6 592.8,449.3 600.4,439.8 597.6,425.6 590.9,419.9 581.4,423.6 571.9,420.8 562.4,424.6 551,424.6" fill="#1B5F98" stroke="#FBAF40" stroke-width="3.6" stroke-linejoin="miter" stroke-miterlimit="12"/>
<polygon points="547.1,421.1 552.9,429.7 542.5,431.4 554,436 536.8,446.4 555.7,444.6 544.8,459 560.3,452.7 558.6,468.2 567.2,457.9 570.7,474 574.1,460.2 580.5,454.4 575.9,445.8 586.2,449.8 573,440 571.2,426.2 566.6,434.3 560.3,432.6 562,423.9 554.6,428" fill="#808285" stroke="#FBAF40" stroke-width="3.6" stroke-linejoin="miter" stroke-miterlimit="12"/>
<polygon points="614.8,422.1 622.9,435.9 628.6,429.6 636.7,458.4 618.3,445.7 613.7,460.7 609.6,443.4 597.6,456.1 602.7,438.8 586.1,452.6 596.4,434.2 583.8,441.1 602.7,423.3 605.6,434.2 608.5,427.9" fill="#6D6E71" stroke="#FBAF40" stroke-width="3.6" stroke-linejoin="miter" stroke-miterlimit="12"/>
<polygon points="569.1,396.2 579.4,397.9 558.8,408.5 580.4,405.1 572.9,419.7 588,415.2 584.8,428.7 595.6,421.9 598.3,435.4 605.8,423.1 608.5,430.9 617.2,419.1 628.5,429.2 634.4,421.9 640.4,418.6 655,412.4 630.1,409.6 645.2,388.3 621.5,397.3 622.6,372.7 603.7,386.1 597.7,370.4 589.1,381.6 585.8,369.9 580.4,380.5 571.8,376 577.2,388.3" fill="#58595B" stroke="#FBAF40" stroke-width="3.6" stroke-linejoin="miter" stroke-miterlimit="12"/>
<text class="t" x="520" y="28.2" font-size="23.3" textLength="18.3" lengthAdjust="spacingAndGlyphs">1.</text>
<text class="t" x="491" y="53.5" font-size="23.3" textLength="73" lengthAdjust="spacingAndGlyphs">ADC in</text>
<text class="t" x="491" y="79" font-size="23.3" textLength="73" lengthAdjust="spacingAndGlyphs">plasma</text>
<text class="t" x="222" y="16.6" font-size="23.3" textLength="18.2" lengthAdjust="spacingAndGlyphs">2.</text>
<text class="t" x="174" y="42.4" font-size="23.3" textLength="112" lengthAdjust="spacingAndGlyphs">ADC binds</text>
<text class="t" x="175" y="68" font-size="23.3" textLength="110" lengthAdjust="spacingAndGlyphs">to antigen</text>
<text class="t" x="185" y="93.4" font-size="23.3" textLength="89" lengthAdjust="spacingAndGlyphs">receptor</text>
<text class="t" x="64" y="105.6" font-size="23.3" textLength="19.3" lengthAdjust="spacingAndGlyphs">3.</text>
<text class="t" x="1" y="131.4" font-size="23.3" textLength="143" lengthAdjust="spacingAndGlyphs">ADC-receptor</text>
<text class="t" x="17" y="157" font-size="23.3" textLength="112" lengthAdjust="spacingAndGlyphs">complex is</text>
<text class="t" x="9" y="182.6" font-size="23.3" textLength="127" lengthAdjust="spacingAndGlyphs">internalized</text>
<text class="t" x="108.5" y="392.7" font-size="23.3" textLength="20.2" lengthAdjust="spacingAndGlyphs">4.</text>
<text class="t" x="45" y="417.7" font-size="23.3" textLength="144.5" lengthAdjust="spacingAndGlyphs">ADC-receptor</text>
<text class="t" x="2.5" y="443.3" font-size="23.3" textLength="230" lengthAdjust="spacingAndGlyphs">complex is degraded,</text>
<text class="t" x="15" y="469" font-size="23.3" textLength="203.5" lengthAdjust="spacingAndGlyphs">releasing cytotoxin</text>
<text class="t" x="395" y="443.2" font-size="23.3" textLength="18.2" lengthAdjust="spacingAndGlyphs">5.</text>
<text class="t" x="351" y="469.3" font-size="23.3" textLength="104.5" lengthAdjust="spacingAndGlyphs">Cytotoxin</text>
<text class="t" x="324.5" y="495.2" font-size="23.3" textLength="158" lengthAdjust="spacingAndGlyphs">binds to target</text>
<text class="t" x="649" y="306.8" font-size="23.3" textLength="19.2" lengthAdjust="spacingAndGlyphs">6.</text>
<text class="t" x="566.5" y="332.7" font-size="23.3" textLength="183" lengthAdjust="spacingAndGlyphs">Causes apoptosis</text>
<text class="t" x="598.5" y="358.8" font-size="23.3" textLength="118" lengthAdjust="spacingAndGlyphs">(cell death)</text>
<text class="b" x="285" y="172.7" font-size="24" textLength="71.5" lengthAdjust="spacingAndGlyphs">Antigen</text>
<text class="b" x="276.5" y="195.3" font-size="24" textLength="89" lengthAdjust="spacingAndGlyphs">Receptors</text>
<text class="b" x="383" y="189.4" font-size="24" textLength="101" lengthAdjust="spacingAndGlyphs">DNA Strand</text>
<text class="b" x="393" y="212" font-size="24" textLength="82.5" lengthAdjust="spacingAndGlyphs">Breakage</text>
<text class="b" x="425" y="303.6" font-size="16.5" textLength="17" lengthAdjust="spacingAndGlyphs">OR</text>
<text class="b" x="380" y="362.6" font-size="24" textLength="107.5" lengthAdjust="spacingAndGlyphs">Microtubule</text>
<text class="b" x="389" y="384.4" font-size="24" textLength="90" lengthAdjust="spacingAndGlyphs">Disruption</text>
<text class="b" x="197" y="391" font-size="24" textLength="86" lengthAdjust="spacingAndGlyphs">Lysosome</text>
</svg></body></html>
